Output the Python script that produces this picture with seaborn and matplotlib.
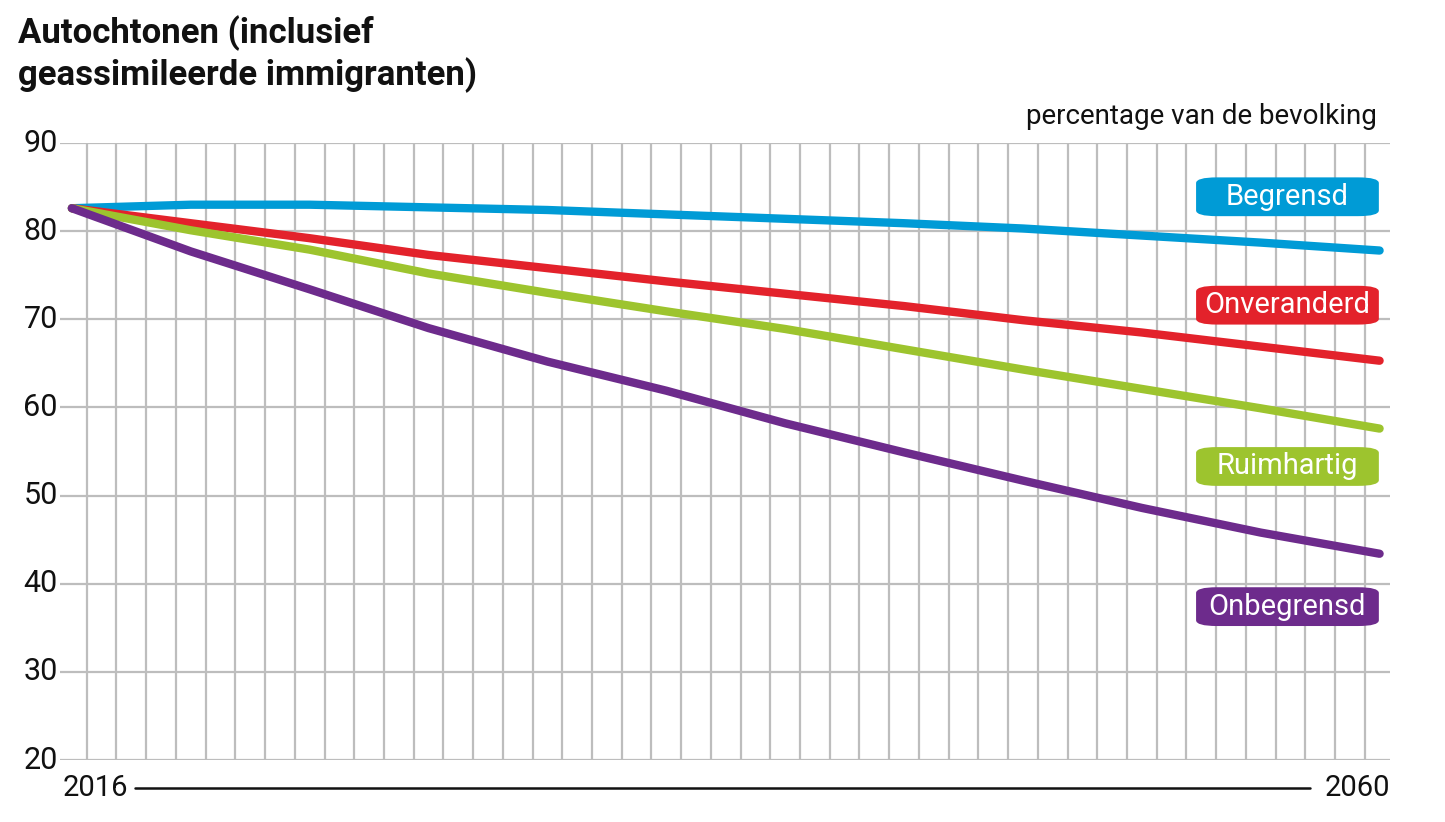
import numpy as np
import pandas as pd
import matplotlib
matplotlib.use("Agg")
import matplotlib.pyplot as plt
import seaborn as sns

years = [2016, 2020, 2024, 2028, 2032, 2036, 2040, 2044, 2048, 2052, 2056, 2060]
begrensd = [82.6, 83.0, 83.0, 82.7, 82.4, 81.9, 81.4, 80.9, 80.3, 79.5, 78.7, 77.8]
onveranderd = [82.6, 80.9, 79.2, 77.3, 75.8, 74.3, 72.9, 71.5, 69.9, 68.5, 66.9, 65.3]
ruimhartig = [82.6, 80.1, 77.9, 75.2, 73.0, 70.9, 68.9, 66.6, 64.3, 62.1, 59.9, 57.6]
onbegrensd = [82.6, 77.7, 73.4, 69.0, 65.2, 61.9, 58.2, 54.9, 51.7, 48.6, 45.8, 43.4]

scenarios = ["Begrensd", "Onveranderd", "Ruimhartig", "Onbegrensd"]
colors = ["#009bd6", "#e3222b", "#9dc42e", "#6d2b8c"]
label_y = [83.9, 71.6, 53.3, 37.4]
yticks = [20, 30, 40, 50, 60, 70, 80, 90]

df = pd.DataFrame({
    "jaar": years * 4,
    "waarde": begrensd + onveranderd + ruimhartig + onbegrensd,
    "scenario": [s for s in scenarios for _ in years],
})

sns.set_style("white")
plt.rcParams["font.family"] = ["Roboto", "DejaVu Sans"]

fig = plt.figure(figsize=(14.45, 8.22), dpi=100)
ax = fig.add_axes([60 / 1445, 1 - 760 / 822, 1330 / 1445, 617 / 822])

grid_c = "#bdbdbd"
for yr in np.arange(2016.5, 2060, 1):
    ax.axvline(yr, color=grid_c, lw=1.6, zorder=0)
for t in yticks:
    ax.axhline(t, color=grid_c, lw=1.6, zorder=0)

sns.lineplot(data=df, x="jaar", y="waarde", hue="scenario", palette=dict(zip(scenarios, colors)),
             lw=6, legend=False, ax=ax, solid_capstyle="round")

# labels in rounded boxes, all the same width
box_w, box_h = 6.15, 4.4
for s, c, ly in zip(scenarios, colors, label_y):
    ax.add_patch(matplotlib.patches.FancyBboxPatch(
        (2056.9 - box_w / 2, ly - box_h / 2), box_w, box_h,
        boxstyle="round,pad=0,rounding_size=0.7", fc=c, ec="none",
        mutation_aspect=box_h / box_w * 1.3, zorder=5))
    ax.text(2056.9, ly, s, color="white", fontsize=21, ha="center", va="center", zorder=6)

ax.set_xlim(2015.6, 2060.35)
ax.set_ylim(20, 90)
ax.set_xticks([])
ax.set_yticks([])
ax.set_xlabel("")
ax.set_ylabel("")
for sp in ax.spines.values():
    sp.set_visible(False)

for t in yticks:
    fig.text(58 / 1445, 1 - (760 - (t - 20) * 617 / 70) / 822, str(t), fontsize=22,
             ha="right", va="center", color="#111111")

fig.text(18 / 1445, 1 - 33 / 822, "Autochtonen (inclusief", fontsize=25, fontweight="bold",
         ha="left", va="center", color="#111111")
fig.text(18 / 1445, 1 - 75 / 822, "geassimileerde immigranten)", fontsize=25, fontweight="bold",
         ha="left", va="center", color="#111111")
fig.text(1377 / 1445, 1 - 117 / 822, "percentage van de bevolking", fontsize=20,
         ha="right", va="center", color="#111111")

fig.text(95 / 1445, 1 - 788 / 822, "2016", fontsize=21, ha="center", va="center", color="#111111")
fig.text(1357 / 1445, 1 - 788 / 822, "2060", fontsize=21, ha="center", va="center", color="#111111")
fig.add_artist(plt.Line2D([135 / 1445, 1310 / 1445], [1 - 788 / 822, 1 - 788 / 822],
                          color="#111111", lw=1.8))

fig.savefig("out.png", dpi=100)
